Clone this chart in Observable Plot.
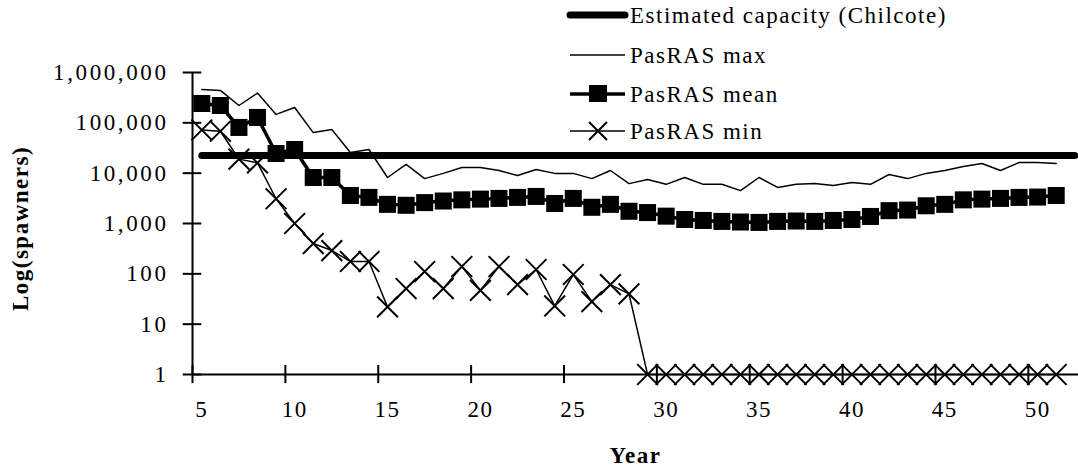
<!DOCTYPE html>
<html><head><meta charset="utf-8">
<script src="https://cdn.jsdelivr.net/npm/d3@7"></script>
<script src="https://cdn.jsdelivr.net/npm/@observablehq/plot@0.6"></script>
<style>
html,body{margin:0;padding:0;background:#fff;}
#wrap{position:relative;width:1078px;height:469px;overflow:hidden;}
#wrap svg text{letter-spacing:1.5px;}
#legend{position:absolute;left:0;top:0;}
</style></head><body><div id="wrap"></div>
<script>
// ---- data ----
const years = [5,6,7,8,9,10,11,12,13,14,15,16,17,18,19,20,21,22,23,24,25,26,27,28,29,30,31,32,33,34,35,36,37,38,39,40,41,42,43,44,45,46,47,48,49,50,51];
const maxVals = [460000,440000,221000,390000,147000,202000,64000,74000,25700,29500,8200,14900,7800,9900,13000,13000,11300,9000,11800,9900,9900,7800,11300,6200,7500,6000,8200,6000,6000,4500,8200,5200,6000,6200,5700,6500,6000,9400,7800,9900,11300,13600,15600,11300,16300,16300,15600];
const meanVals = [242000,221000,81000,128000,24600,29500,8200,8200,3600,3300,2400,2300,2600,2800,2950,3050,3150,3300,3450,2500,3150,2100,2400,1750,1650,1400,1200,1150,1100,1070,1050,1100,1120,1100,1150,1200,1380,1800,1850,2250,2400,2950,3050,3150,3300,3350,3600];
const minVals = [72000,68000,19000,16000,3100,1000,400,290,176,176,22,51,111,51,140,47,140,61,122,23,97,28,61,40,1,1,1,1,1,1,1,1,1,1,1,1,1,1,1,1,1,1,1,1,1,1,1];
const capYears = [5,6,7,8,9,10,11,12,13,14,15,16,17,18,19,20,21,22,23,24,25,26,27,28,29,30,31,32,33,34,35,36,37,38,39,40,41,42,43,44,45,46,47,48,49,50,51,52];
const capacityValue = 22500;
const yTicks = [1,10,100,1000,10000,100000,1000000];
const xLabels = [5,10,15,20,25,30,35,40,45,50];
const seriesNames = ["Estimated capacity (Chilcote)","PasRAS max","PasRAS mean","PasRAS min"];
const yTitle = "Log(spawners)";
const xTitle = "Year";

// ---- tables ----
const data = years.map((yr,i)=>({year:yr, max:maxVals[i], mean:meanVals[i], min:minVals[i]}));
const capData = capYears.map(yr=>({year:yr, value:capacityValue}));
const xTickPos = xLabels.map(d=>d-0.5); // category boundaries
const x0 = 4.5, x1 = 52.2;

const fontFamily = "'Liberation Serif','Times New Roman',serif";
const chart = Plot.plot({
  width:1078, height:469,
  marginLeft:192, marginRight:0, marginTop:72, marginBottom:95,
  style:{fontFamily, fontSize:"23px", color:"#000", background:"#fff", overflow:"visible"},
  x:{type:"linear", domain:[x0, x1]},
  y:{type:"log", domain:[1,1e6]},
  marks:[
    Plot.axisY({ticks:yTicks, tickSize:0, tickPadding:24, tickFormat:d3.format(","), label:null}),
    Plot.axisX({ticks:xLabels, tickSize:0, tickPadding:26, tickFormat:d=>String(d), label:null}),
    Plot.ruleY(yTicks, {y:d=>d, x1:x0-0.5, x2:x0+0.5, stroke:"#000", strokeWidth:2}),
    Plot.ruleX(xTickPos, {x:d=>d, y1:0.66, y2:1.51, stroke:"#000", strokeWidth:2}),
    Plot.ruleX([x0], {y1:1, y2:1e6, stroke:"#000", strokeWidth:2}),
    Plot.ruleY([1], {x1:x0, x2:x1, stroke:"#000", strokeWidth:2}),
    Plot.lineY(capData, {x:"year", y:"value", stroke:"#000", strokeWidth:7, strokeLinecap:"round"}),
    Plot.lineY(data, {x:"year", y:"max", stroke:"#000", strokeWidth:1.5}),
    Plot.lineY(data, {x:"year", y:"mean", stroke:"#000", strokeWidth:3.5}),
    Plot.dot(data, {x:"year", y:"mean", symbol:"square", r:9.6, fill:"#000", stroke:"none"}),
    Plot.lineY(data, {x:"year", y:"min", stroke:"#000", strokeWidth:1.5}),
    Plot.dot(data, {x:"year", y:"min", symbol:"times", r:9.5, stroke:"#000", strokeWidth:2}),
    Plot.text([yTitle], {frameAnchor:"left", textAnchor:"middle", lineAnchor:"middle", dx:-172, dy:5, rotate:-90, fontWeight:"bold"}),
    Plot.text([xTitle], {frameAnchor:"bottom", dy:88, fontWeight:"bold"})
  ]
});
const wrap = document.getElementById("wrap");
wrap.appendChild(chart);
// wider spacing on the y tick labels, as in the reference
chart.querySelectorAll('[aria-label="y-axis tick label"] text').forEach(t=>t.style.letterSpacing="2.6px");

// ---- legend ----
const lg = d3.select(wrap).append("svg").attr("id","legend")
  .attr("width",1078).attr("height",150)
  .style("font-family",fontFamily).style("font-size","23px");
const rows = [15,55,94,131];
const lx1 = 570, lx2 = 625, tx = 630, cx = 598;
seriesNames.forEach((name,i)=>{
  const y = rows[i];
  const g = lg.append("g");
  const sw = [7,1.5,3.5,1.5][i];
  g.append("line").attr("x1",lx1).attr("x2",lx2).attr("y1",y).attr("y2",y)
    .attr("stroke","#000").attr("stroke-width",sw).attr("stroke-linecap", i===0?"round":"butt");
  if(i===2) g.append("rect").attr("x",cx-9).attr("y",y-9).attr("width",18).attr("height",17).attr("fill","#000");
  if(i===3) g.append("path").attr("d",`M${cx-9},${y-9}L${cx+9},${y+9}M${cx-9},${y+9}L${cx+9},${y-9}`)
    .attr("stroke","#000").attr("stroke-width",2).attr("fill","none");
  g.append("text").attr("x",tx).attr("y",y).attr("dy","0.35em").text(name);
});
</script></body></html>
